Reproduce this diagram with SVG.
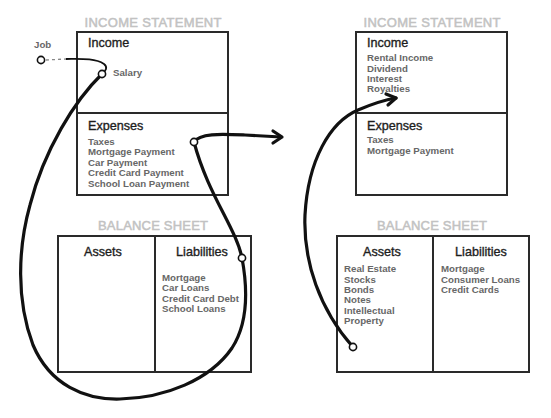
<svg xmlns="http://www.w3.org/2000/svg" width="551" height="418" viewBox="0 0 551 418">
<style>
.title{font-family:"Liberation Sans",Arial,sans-serif;font-size:13px;fill:#c2c2c2;stroke:#c2c2c2;stroke-width:0.5;text-anchor:middle}
.head{font-family:"Liberation Sans",Arial,sans-serif;font-size:12.6px;fill:#1e1e1e;stroke:#1e1e1e;stroke-width:0.35}
.item{font-family:"Liberation Sans",Arial,sans-serif;font-size:9.7px;font-weight:bold;fill:#676767}
.box{fill:none;stroke:#2a2a2a;stroke-width:2}
.flow{fill:none;stroke:#111;stroke-width:3.2;stroke-linecap:round;stroke-linejoin:round}
.dot{fill:#fff;stroke:#111;stroke-width:1.6}
</style>
<rect width="551" height="418" fill="#fff"/>

<g id="income-statement-left">
  <text class="title" x="153" y="27" textLength="137">INCOME STATEMENT</text>
  <rect class="box" x="77" y="32" width="151" height="163"/>
  <line class="box" x1="77" y1="113" x2="228" y2="113"/>
  <text class="head" x="88" y="47">Income</text>
  <text class="item" x="113" y="76">Salary</text>
  <text class="head" x="88" y="130">Expenses</text>
  <text class="item" x="88" y="145">Taxes</text>
  <text class="item" x="88" y="155">Mortgage Payment</text>
  <text class="item" x="88" y="166">Car Payment</text>
  <text class="item" x="88" y="176">Credit Card Payment</text>
  <text class="item" x="88" y="187">School Loan Payment</text>
</g>

<g id="income-statement-right">
  <text class="title" x="432" y="27" textLength="137">INCOME STATEMENT</text>
  <rect class="box" x="356" y="32" width="151" height="163"/>
  <line class="box" x1="356" y1="113" x2="507" y2="113"/>
  <text class="head" x="367" y="47">Income</text>
  <text class="item" x="367" y="61">Rental Income</text>
  <text class="item" x="367" y="72">Dividend</text>
  <text class="item" x="367" y="82">Interest</text>
  <text class="item" x="367" y="92">Royalties</text>
  <text class="head" x="367" y="130">Expenses</text>
  <text class="item" x="367" y="143">Taxes</text>
  <text class="item" x="367" y="154">Mortgage Payment</text>
</g>

<g id="balance-sheet-left">
  <text class="title" x="153" y="230" textLength="110">BALANCE SHEET</text>
  <rect class="box" x="58" y="236" width="193" height="136"/>
  <line class="box" x1="155" y1="236" x2="155" y2="372"/>
  <text class="head" x="103" y="256" text-anchor="middle">Assets</text>
  <text class="head" x="202" y="256" text-anchor="middle">Liabilities</text>
  <text class="item" x="162" y="281">Mortgage</text>
  <text class="item" x="162" y="291">Car Loans</text>
  <text class="item" x="162" y="302">Credit Card Debt</text>
  <text class="item" x="162" y="312">School Loans</text>
</g>

<g id="balance-sheet-right">
  <text class="title" x="432" y="230" textLength="110">BALANCE SHEET</text>
  <rect class="box" x="337" y="236" width="192" height="136"/>
  <line class="box" x1="433" y1="236" x2="433" y2="372"/>
  <text class="head" x="382" y="256" text-anchor="middle">Assets</text>
  <text class="head" x="481" y="256" text-anchor="middle">Liabilities</text>
  <text class="item" x="344" y="272">Real Estate</text>
  <text class="item" x="344" y="283">Stocks</text>
  <text class="item" x="344" y="293">Bonds</text>
  <text class="item" x="344" y="303">Notes</text>
  <text class="item" x="344" y="314">Intellectual</text>
  <text class="item" x="344" y="324">Property</text>
  <text class="item" x="441" y="272">Mortgage</text>
  <text class="item" x="441" y="283">Consumer Loans</text>
  <text class="item" x="441" y="293">Credit Cards</text>
</g>

<g id="job">
  <text class="item" x="34" y="48">Job</text>
</g>

<g id="connectors">
  <path d="M46,60 L66,59" fill="none" stroke="#888" stroke-width="1.3" stroke-dasharray="3,3"/>
  <path d="M66,59 C80,59 95,58 104,64 C108,67 106,71 102,74" fill="none" stroke="#111" stroke-width="1.8"/>
  <path class="flow" d="M102,74 C75,100 44,150 30,205 C18,248 16,300 33,345 C50,385 85,400 120,399 C165,398 210,380 232,348 C250,320 247,285 242,258 C236,228 208,195 194,142 C200,133 220,134 245,135 L281,137"/>
  <path class="flow" d="M273,131 L282,137 L273,143" stroke-width="2.2"/>
  <path class="flow" d="M353,347 C320,310 303,262 305,215 C308,160 330,122 358,110 C372,104 384,100 396,98"/>
  <path class="flow" d="M386,94 L396,98 L388,105" stroke-width="2.2"/>
  <circle class="dot" cx="41" cy="60" r="3.6"/>
  <circle class="dot" cx="102" cy="74" r="3.6"/>
  <circle class="dot" cx="194" cy="142" r="3.6"/>
  <circle class="dot" cx="242" cy="258" r="3.6"/>
  <circle class="dot" cx="353" cy="347" r="3.6"/>
</g>
</svg>
